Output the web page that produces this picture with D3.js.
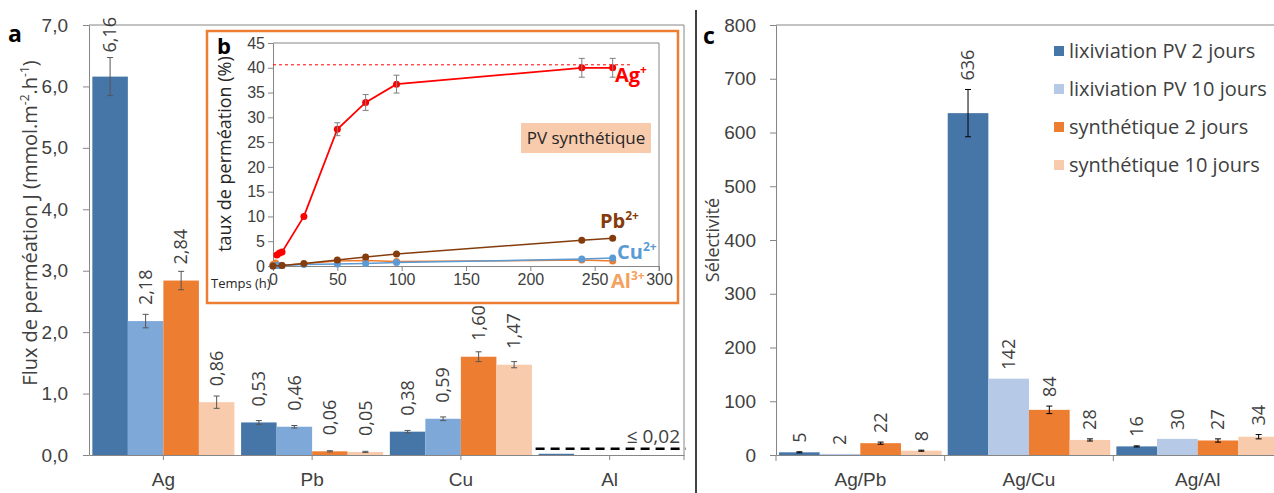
<!DOCTYPE html>
<meta charset="utf-8">
<style>
body { margin: 0; background: #fff; }
svg { font-family: "Open Sans", sans-serif; }
.axis path, .axis line { stroke: #868686; }
.axis text { fill: #404040; }
</style>
<body>
<script src="https://d3js.org/d3.v7.min.js"></script>
<script>
// ---- data ----
var metals = ["Ag", "Pb", "Cu", "Al"];
var seriesNames = ["lixiviation PV 2 jours", "lixiviation PV 10 jours", "synthétique 2 jours", "synthétique 10 jours"];
// flux (panel a), one row per metal, one value per series
var fluxValues = [[6.16, 2.18, 2.84, 0.86], [0.53, 0.46, 0.06, 0.05], [0.38, 0.59, 1.60, 1.47], [0.02, 0, 0, 0]];
var fluxErrors = [[0.31, 0.11, 0.15, 0.10], [0.03, 0.02, 0.01, 0.01], [0.02, 0.03, 0.08, 0.05], [0, 0, 0, 0]];
var fluxTicks = [0, 1, 2, 3, 4, 5, 6, 7];
var fluxThreshold = 0.1;

// selectivity (panel c)
var ratios = ["Ag/Pb", "Ag/Cu", "Ag/Al"];
var selValues = [[5, 2, 22, 8], [636, 142, 84, 28], [16, 30, 27, 34]];
var selErrors = [[1, 0, 2, 1], [44, 0, 7, 2], [1, 0, 3, 4]];
var selTicks = [0, 100, 200, 300, 400, 500, 600, 700, 800];

// permeation rate vs time (panel b)
var agTime = [3, 5, 7, 24, 50, 72, 96, 240, 264];
var agRate = [2.2, 2.6, 2.8, 10, 27.6, 33, 36.7, 40, 40];
var agErr = [0, 0, 0, 0, 1.3, 1.6, 1.8, 1.9, 1.9];
var pbTime = [0, 7, 24, 50, 72, 96, 240, 264];
var pbRate = [0, 0.1, 0.5, 1.2, 1.8, 2.4, 5.2, 5.6];
var cuTime = [0, 3, 5, 7, 24, 50, 72, 96, 240, 264];
var cuRate = [0, 0.1, 0.1, 0.1, 0.3, 0.4, 0.5, 0.7, 1.4, 1.6];
var alTime = [0, 2, 7, 50, 72, 96, 240, 264];
var alRate = [0.3, 0.6, 0.1, 1.0, 1.1, 0.9, 1.2, 1.0];
var agMax = 40.6;
var timeTicks = [0, 50, 100, 150, 200, 250, 300];
var rateTicks = [0, 5, 10, 15, 20, 25, 30, 35, 40, 45];

var colorsA = ["#4676A8", "#7EA8D8", "#ED7D31", "#F8CBAD"];
var colorsC = ["#4676A8", "#B6CAE7", "#ED7D31", "#F8CBAD"];
var comma = function(v, n) { return v.toFixed(n).replace(".", ","); };

var svg = d3.select("body").append("svg").attr("width", 1274).attr("height", 493);

// ================= panel a =================
var yA = d3.scaleLinear().domain([0, 7]).range([455, 25]);
var xA = d3.scaleBand().domain(metals).range([89, 684]).paddingInner(0.045).paddingOuter(0.0225);
var xA1 = d3.scaleBand().domain(d3.range(4)).range([0, xA.bandwidth()]);

var gA = svg.append("g");

gA.append("g").attr("class", "axis")
    .attr("transform", "translate(89,0)")
    .call(d3.axisLeft(yA).tickValues(fluxTicks).tickFormat(function(d) { return comma(d, 1); }).tickSize(6).tickSizeOuter(0).tickPadding(15))
    .selectAll("text").style("font-size", "19px");

gA.append("g").attr("class", "axis")
    .attr("transform", "translate(0,455)")
    .call(d3.axisBottom(xA).tickSize(5).tickSizeOuter(0).tickPadding(13))
    .selectAll("text").style("font-size", "19px");

// top and right frame
gA.append("line").attr("x1", 89).attr("x2", 684).attr("y1", yA(7)).attr("y2", yA(7)).attr("stroke", "#868686");
gA.append("line").attr("x1", 684).attr("x2", 684).attr("y1", yA(7)).attr("y2", yA(0) + 5).attr("stroke", "#868686");

var grpA = gA.selectAll(".grpA").data(metals).enter().append("g")
    .attr("transform", function(d) { return "translate(" + xA(d) + ",0)"; });

grpA.each(function(m, mi) {
  var g = d3.select(this);
  fluxValues[mi].forEach(function(v, si) {
    var e = fluxErrors[mi][si];
    var cx = xA1(si) + xA1.bandwidth() / 2;
    if (v > 0) {
      g.append("rect").attr("x", xA1(si)).attr("width", xA1.bandwidth())
        .attr("y", yA(v)).attr("height", yA(0) - yA(v)).attr("fill", colorsA[si]);
    }
    if (e > 0) {
      g.append("path").attr("d", "M" + cx + "," + yA(v + e) + "V" + yA(v - e) +
          "M" + (cx - 3) + "," + yA(v + e) + "h6M" + (cx - 3) + "," + yA(v - e) + "h6")
        .attr("stroke", "#555").attr("fill", "none");
    }
    if (m !== "Al") {
      var yl = Math.min(yA(v) - 16, yA(v + e) - 5);
      g.append("text").attr("transform", "translate(" + cx + "," + yl + ") rotate(-90)")
        .attr("dy", "0.35em").style("font-size", "18px").attr("fill", "#404040")
        .text(comma(v, 2));
    }
  });
});

// threshold for Al
gA.append("line").attr("x1", xA("Al") - 3).attr("x2", 686)
    .attr("y1", yA(fluxThreshold)).attr("y2", yA(fluxThreshold))
    .attr("stroke", "#000").attr("stroke-width", 2.5).attr("stroke-dasharray", "9,6");
gA.append("text").attr("x", 680).attr("y", yA(fluxThreshold) - 6).attr("text-anchor", "end")
    .style("font-size", "19px").attr("fill", "#404040").text("≤ 0,02");

// y label
var labA = gA.append("text").attr("transform", "translate(37,223) rotate(-90)")
    .attr("text-anchor", "middle").style("font-size", "20px").attr("fill", "#404040");
labA.append("tspan").text("Flux de perméation J (mmol.m");
labA.append("tspan").attr("baseline-shift", "super").style("font-size", "12px").text("-2");
labA.append("tspan").text(".h");
labA.append("tspan").attr("baseline-shift", "super").style("font-size", "12px").text("-1");
labA.append("tspan").text(")");

svg.append("text").attr("x", 8).attr("y", 42).style("font-size", "23px").style("font-weight", "bold").text("a");

// ================= panel b (inset) =================
var gB = svg.append("g");
gB.append("rect").attr("x", 207).attr("y", 31).attr("width", 471).attr("height", 272)
    .attr("fill", "#fff").attr("stroke", "#ED7D31").attr("stroke-width", 2.5);

var xB = d3.scaleLinear().domain([0, 300]).range([273, 659]);
var yB = d3.scaleLinear().domain([0, 45]).range([266, 43]);

gB.append("g").attr("class", "axis").attr("transform", "translate(273,0)")
    .call(d3.axisLeft(yB).tickValues(rateTicks).tickSize(5).tickSizeOuter(0).tickPadding(3))
    .selectAll("text").style("font-size", "16px");
gB.append("g").attr("class", "axis").attr("transform", "translate(0,266)")
    .call(d3.axisBottom(xB).tickValues(timeTicks).tickSize(5).tickSizeOuter(0).tickPadding(3))
    .selectAll("text").style("font-size", "16px");
gB.append("line").attr("x1", 273).attr("x2", 659).attr("y1", 43).attr("y2", 43).attr("stroke", "#868686");
gB.append("line").attr("x1", 659).attr("x2", 659).attr("y1", 43).attr("y2", 271).attr("stroke", "#868686");

gB.append("line").attr("x1", xB(0)).attr("x2", xB(278)).attr("y1", yB(agMax)).attr("y2", yB(agMax))
    .attr("stroke", "#FF0000").attr("stroke-dasharray", "3,3");

var line = d3.line().x(function(d) { return xB(d[0]); }).y(function(d) { return yB(d[1]); });
var curves = [
  {t: alTime, v: alRate, c: "#ED7D31", r: 3.5, w: 1.5},
  {t: cuTime, v: cuRate, c: "#5B9BD5", r: 3.5, w: 1.5},
  {t: pbTime, v: pbRate, c: "#843C0C", r: 3.5, w: 1.5},
  {t: agTime, v: agRate, c: "#FF0000", r: 3.5, w: 1.8}
];
curves.forEach(function(s) {
  var pts = s.t.map(function(t, i) { return [t, s.v[i]]; });
  gB.append("path").attr("d", line(pts)).attr("fill", "none").attr("stroke", s.c).attr("stroke-width", s.w);
  gB.selectAll(null).data(pts).enter().append("circle")
    .attr("cx", function(d) { return xB(d[0]); }).attr("cy", function(d) { return yB(d[1]); })
    .attr("r", s.r).attr("fill", s.c);
});
agTime.forEach(function(t, i) {
  var e = agErr[i];
  if (!e) return;
  var cx = xB(t), v = agRate[i];
  gB.append("path").attr("d", "M" + cx + "," + yB(v + e) + "V" + yB(v - e) +
      "M" + (cx - 3) + "," + yB(v + e) + "h6M" + (cx - 3) + "," + yB(v - e) + "h6")
    .attr("stroke", "#7f7f7f").attr("fill", "none");
});

function ionLabel(x, y, base, sup, color) {
  var t = gB.append("text").attr("x", x).attr("y", y).attr("fill", color)
      .style("font-size", "20px").style("font-weight", "bold");
  t.append("tspan").text(base);
  t.append("tspan").attr("baseline-shift", "super").style("font-size", "12px").text(sup);
}
ionLabel(615, 82, "Ag", "+", "#FF0000");
ionLabel(600, 228, "Pb", "2+", "#843C0C");
ionLabel(617, 259, "Cu", "2+", "#5B9BD5");
ionLabel(611, 288, "Al", "3+", "#F4A15D");

gB.append("rect").attr("x", 521).attr("y", 123).attr("width", 130).attr("height", 30).attr("fill", "#F8CBAD");
gB.append("text").attr("x", 586).attr("y", 144).attr("text-anchor", "middle")
    .style("font-size", "17px").attr("fill", "#262626").text("PV synthétique");

gB.append("text").attr("transform", "translate(231,154) rotate(-90)").attr("text-anchor", "middle")
    .style("font-size", "18px").attr("fill", "#262626").text("taux de perméation (%)");
gB.append("text").attr("x", 211).attr("y", 288).style("font-size", "13px").attr("fill", "#262626").text("Temps (h)");
gB.append("text").attr("x", 217).attr("y", 54).style("font-size", "22px").style("font-weight", "bold").text("b");

// separator
svg.append("line").attr("x1", 696).attr("x2", 696).attr("y1", 10).attr("y2", 493).attr("stroke", "#000").attr("stroke-width", 1.5);

// ================= panel c =================
var yC = d3.scaleLinear().domain([0, 800]).range([455, 25]);
var xC = d3.scaleBand().domain(ratios).range([776, 1282]).paddingInner(0.036).paddingOuter(0.018);
var xC1 = d3.scaleBand().domain(d3.range(4)).range([0, xC.bandwidth()]);
var gC = svg.append("g");

gC.append("g").attr("class", "axis").attr("transform", "translate(776,0)")
    .call(d3.axisLeft(yC).tickValues(selTicks).tickSize(6).tickSizeOuter(0).tickPadding(14))
    .selectAll("text").style("font-size", "19px");
var axC = gC.append("g").attr("class", "axis").attr("transform", "translate(0,455)")
    .call(d3.axisBottom(xC).tickSize(0).tickSizeOuter(0).tickPadding(18));
axC.selectAll("text").style("font-size", "19px");
// category boundary ticks
var bounds = ratios.map(function(d) { return xC(d) - xC.step() * xC.paddingInner() / 2; });
gC.selectAll(null).data(bounds).enter().append("line")
    .attr("x1", function(d) { return d; }).attr("x2", function(d) { return d; })
    .attr("y1", 455).attr("y2", 461).attr("stroke", "#868686");
gC.append("line").attr("x1", 776).attr("x2", 1274).attr("y1", yC(800)).attr("y2", yC(800)).attr("stroke", "#868686");

var grpC = gC.selectAll(".grpC").data(ratios).enter().append("g")
    .attr("transform", function(d) { return "translate(" + xC(d) + ",0)"; });
grpC.each(function(r, ri) {
  var g = d3.select(this);
  selValues[ri].forEach(function(v, si) {
    var e = selErrors[ri][si];
    var cx = xC1(si) + xC1.bandwidth() / 2;
    g.append("rect").attr("x", xC1(si)).attr("width", xC1.bandwidth())
      .attr("y", yC(v)).attr("height", yC(0) - yC(v)).attr("fill", colorsC[si]);
    if (e > 0) {
      g.append("path").attr("d", "M" + cx + "," + yC(v + e) + "V" + yC(v - e) +
          "M" + (cx - 3) + "," + yC(v + e) + "h6M" + (cx - 3) + "," + yC(v - e) + "h6")
        .attr("stroke", "#000").attr("fill", "none");
    }
    var yl = Math.min(yC(v) - 8, yC(v + e) - 9);
    g.append("text").attr("transform", "translate(" + cx + "," + yl + ") rotate(-90)")
      .attr("dy", "0.35em").style("font-size", "18px").attr("fill", "#404040").text(v);
  });
});

gC.append("text").attr("transform", "translate(719,240) rotate(-90)").attr("text-anchor", "middle")
    .style("font-size", "18px").attr("fill", "#404040").text("Sélectivité");
svg.append("text").attr("x", 703).attr("y", 44).style("font-size", "23px").style("font-weight", "bold").text("c");

// legend
var leg = gC.selectAll(".leg").data(seriesNames).enter().append("g")
    .attr("transform", function(d, i) { return "translate(1054," + (58 + i * 38) + ")"; });
leg.append("rect").attr("x", 0).attr("y", -12).attr("width", 10).attr("height", 10)
    .attr("fill", function(d, i) { return colorsC[i]; });
leg.append("text").attr("x", 15).style("font-size", "20px").attr("fill", "#404040").text(function(d) { return d; });
</script>
</body>
